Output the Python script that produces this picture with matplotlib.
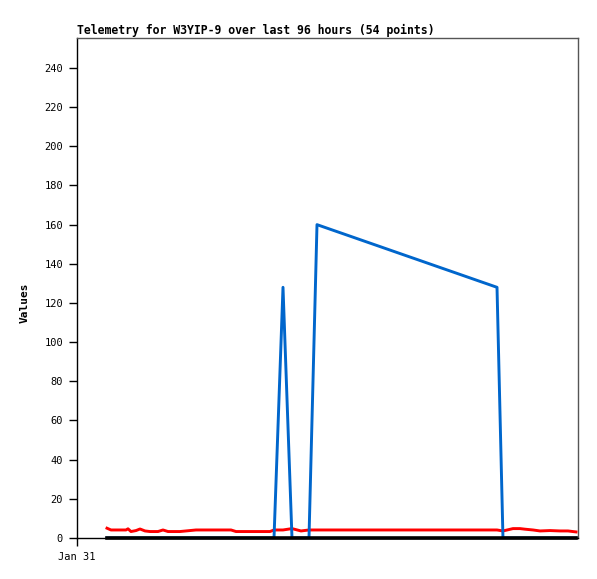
import matplotlib
matplotlib.use('Agg')
from matplotlib import pyplot as plt

# hours since Jan 31 00:00
hours = [6.14, 6.96, 10.03, 10.44, 11.05, 12.08, 12.90, 13.92, 14.94, 16.58,
         17.60, 18.63, 21.08, 24.36, 27.84, 31.53, 32.55, 39.51, 40.33, 42.17,
         44.01, 45.85, 47.49, 49.13, 50.97, 52.81, 54.66, 56.50, 58.34, 60.18,
         62.03, 63.87, 65.71, 67.55, 69.40, 71.24, 73.08, 74.92, 76.77, 78.61,
         80.45, 82.29, 84.14, 85.98, 87.20, 89.25, 90.69, 91.71, 93.35, 94.78,
         96.83, 98.87, 100.51, 102.15]

red_vals = [5.0, 4.1, 4.1, 4.7, 3.3, 3.8, 4.6, 3.6, 3.3, 3.3,
            4.1, 3.3, 3.3, 4.1, 4.1, 4.1, 3.3, 3.3, 4.1, 4.1,
            4.8, 3.6, 4.1, 4.1, 4.1, 4.1, 4.1, 4.1, 4.1, 4.1,
            4.1, 4.1, 4.1, 4.1, 4.1, 4.1, 4.1, 4.1, 4.1, 4.1,
            4.1, 4.1, 4.1, 4.1, 3.6, 4.8, 4.8, 4.5, 4.1, 3.6,
            3.8, 3.6, 3.6, 3.1]

blue_vals = [0, 0, 0, 0, 0, 0, 0, 0, 0, 0,
             0, 0, 0, 0, 0, 0, 0, 0, 0, 128,
             0, 0, 0, 160, 158.4, 156.8, 155.2, 153.6, 152.0, 150.4,
             148.8, 147.2, 145.6, 144.0, 142.4, 140.8, 139.2, 137.6, 136.0, 134.4,
             132.8, 131.2, 129.6, 128, 0, 0, 0, 0, 0, 0,
             0, 0, 0, 0]

black_vals = [0] * 54

y_ticks = [0, 20, 40, 60, 80, 100, 120, 140, 160, 180, 200, 220, 240]
x_ticks = [0]
x_labels = ['Jan 31']
title = 'Telemetry for W3YIP-9 over last 96 hours (54 points)'

mono = 'DejaVu Sans Mono'

fig = plt.figure(figsize=(5.97, 5.79), dpi=100)
ax = fig.add_axes([77 / 597, 41 / 579, 501 / 597, 500 / 579])

ax.plot(hours, red_vals, color='#ff0000', lw=2.1, zorder=3)
ax.plot(hours, blue_vals, color='#0066cc', lw=2.1, zorder=4)
ax.plot(hours, black_vals, color='black', lw=2.6, zorder=5, clip_on=False)

ax.set_xlim(0, 102.56)
ax.set_ylim(0, 255.3)
ax.set_yticks(y_ticks)
ax.set_yticklabels([str(v) for v in y_ticks], family=mono, fontsize=7.5)
ax.set_xticks(x_ticks)
ax.set_xticklabels(x_labels, family=mono, fontsize=7.5)
ax.tick_params(axis='both', direction='out', length=6, width=1, color='black', pad=4)

for s in ['left', 'bottom']:
    ax.spines[s].set_color('black')
    ax.spines[s].set_linewidth(1)
for s in ['top', 'right']:
    ax.spines[s].set_color('#555555')
    ax.spines[s].set_linewidth(1)

ax.set_ylabel('Values', family=mono, fontweight='bold', fontsize=8)
ax.yaxis.set_label_coords(-0.095, 0.47)
ax.set_title(title, family=mono, fontweight='bold', fontsize=8.3, loc='left', pad=3)

fig.savefig('out.png', dpi=100)
